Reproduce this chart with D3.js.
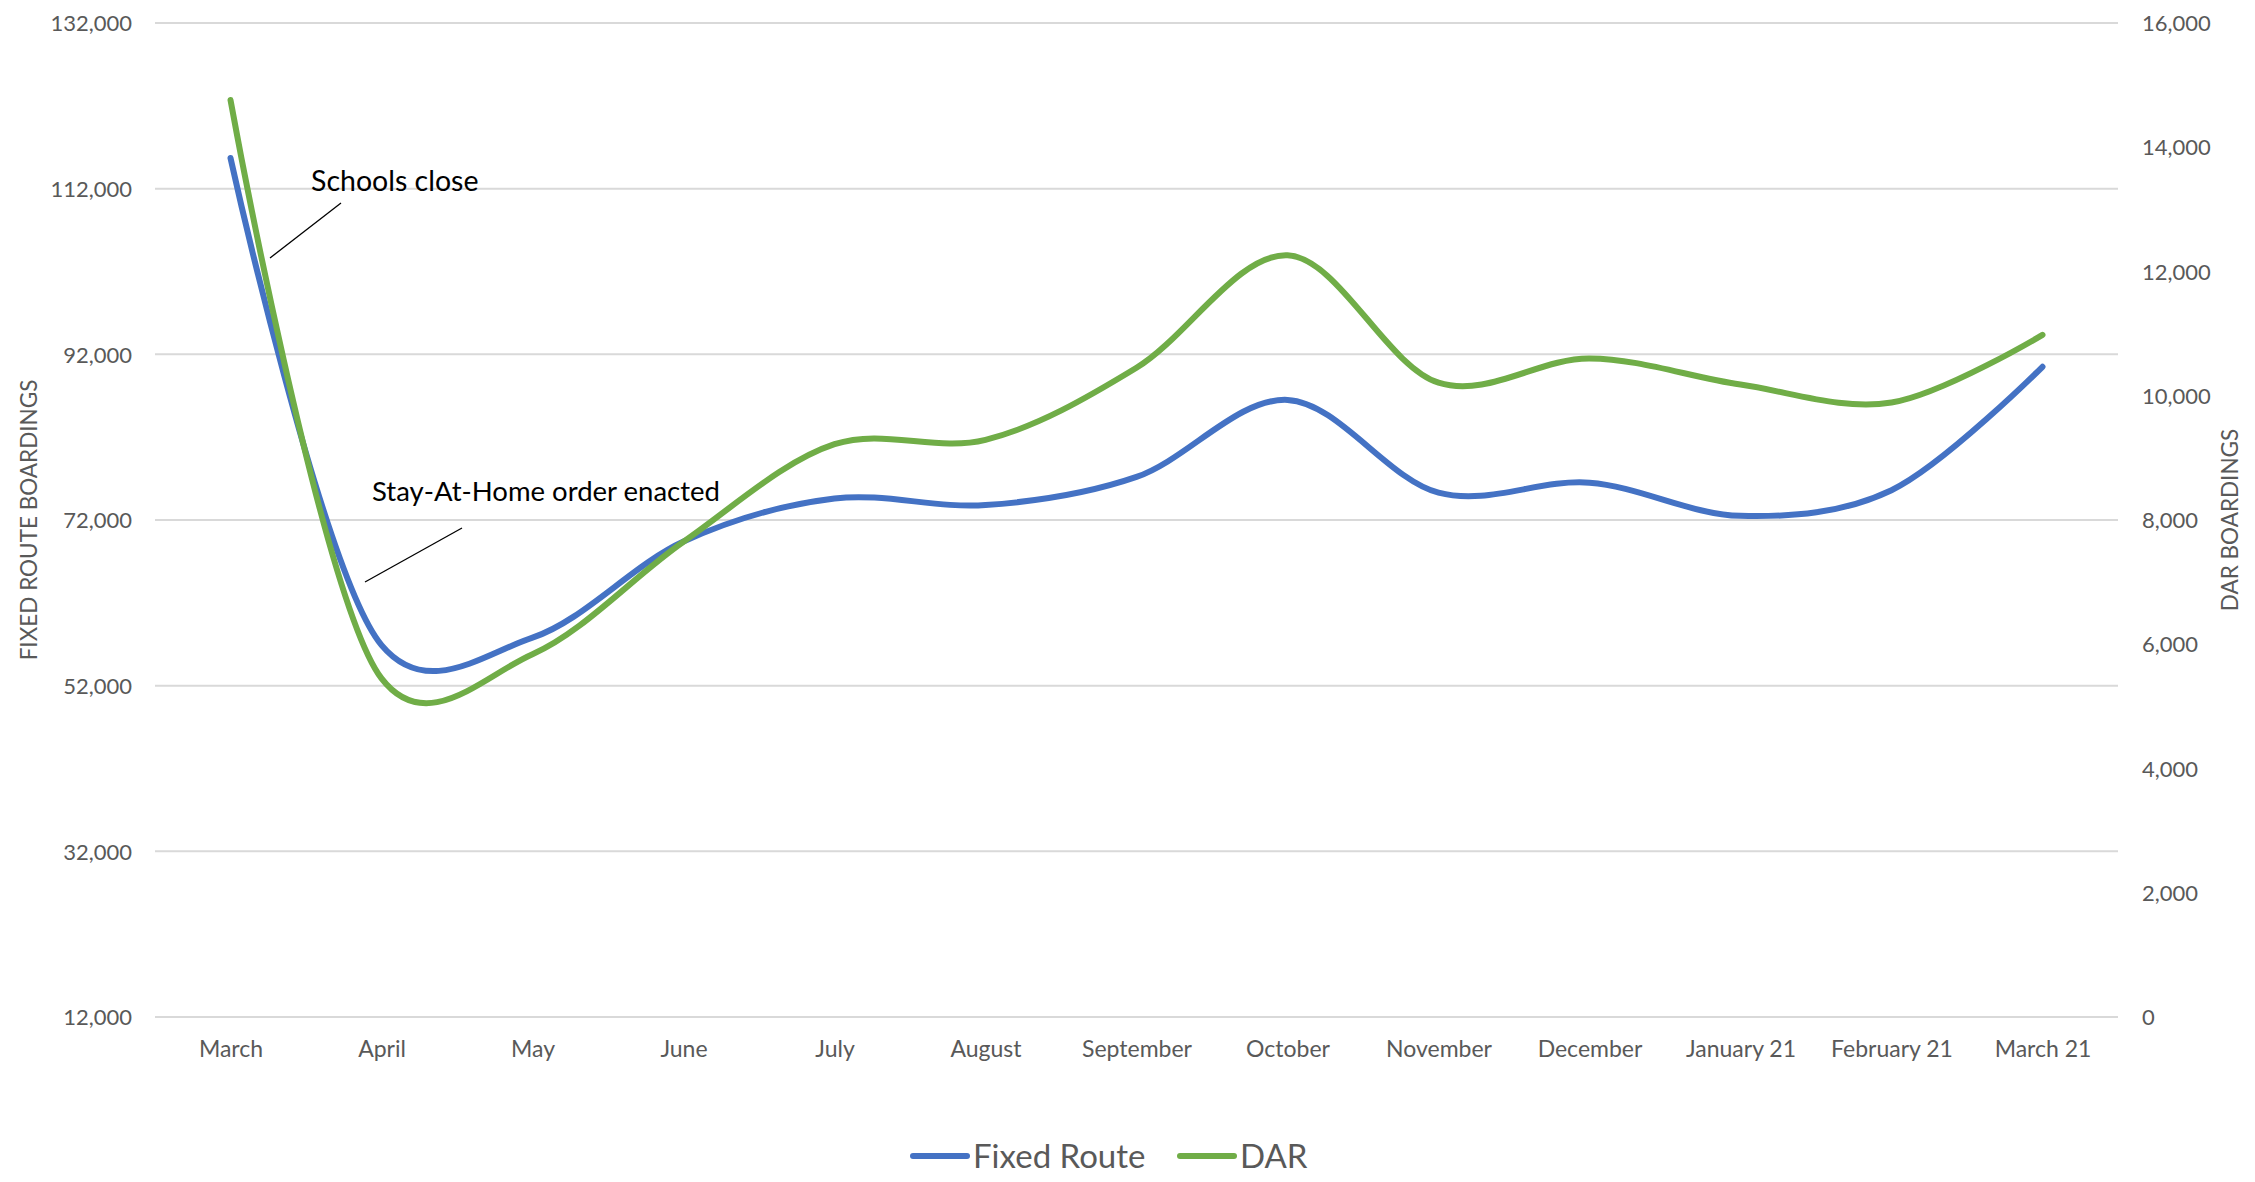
<!DOCTYPE html>
<html>
<head>
<meta charset="utf-8">
<script src="https://cdn.jsdelivr.net/npm/d3@7"></script>
<style>
  html, body { margin: 0; padding: 0; background: #fff; }
  svg { display: block; font-family: Lato, "Open Sans", sans-serif; }
</style>
</head>
<body>
<svg id="chart" width="2255" height="1182"></svg>
<script>
// Monthly boardings, March 2020 – March 2021
const months = ["March", "April", "May", "June", "July", "August", "September",
  "October", "November", "December", "January 21", "February 21", "March 21"];
const fixedRoute = [115700, 56900, 57800, 69400, 74600, 73800, 77200, 86500, 75300, 76500, 72500, 75600, 90500];
const dar = [14760, 5450, 5840, 7650, 9220, 9290, 10450, 12260, 10210, 10600, 10180, 9890, 10980];

const leftTicks = [12000, 32000, 52000, 72000, 92000, 112000, 132000];
const rightTicks = [0, 2000, 4000, 6000, 8000, 10000, 12000, 14000, 16000];

const seriesNames = ["Fixed Route", "DAR"];
const seriesColors = ["#4472C4", "#70AD47"];

const notes = ["Schools close", "Stay-At-Home order enacted"];

const svg = d3.select("#chart");
const plot = { left: 155, right: 2118, top: 23, bottom: 1017 };

const x = d3.scalePoint().domain(months).range([plot.left, plot.right]).padding(0.5);
const yLeft = d3.scaleLinear().domain([12000, 132000]).range([plot.bottom, plot.top]);
const yRight = d3.scaleLinear().domain([0, 16000]).range([plot.bottom, plot.top]);

const fmt = d3.format(",");
const labelColor = "#595959";

// horizontal gridlines on the primary axis ticks
svg.append("g")
  .selectAll("line")
  .data(leftTicks)
  .join("line")
  .attr("x1", plot.left).attr("x2", plot.right)
  .attr("y1", d => yLeft(d)).attr("y2", d => yLeft(d))
  .attr("stroke", "#d9d9d9").attr("stroke-width", 2);

// left axis
const axL = svg.append("g").attr("transform", `translate(${plot.left - 23},0)`)
  .call(d3.axisLeft(yLeft).tickValues(leftTicks).tickFormat(fmt).tickSize(0).tickPadding(0));
axL.select(".domain").remove();
axL.selectAll("text").attr("fill", labelColor).style("font-size", "22px").attr("dy", "0.35em")
  .style("font-family", "Lato, sans-serif");

// right axis
const axR = svg.append("g").attr("transform", `translate(${plot.right + 24},0)`)
  .call(d3.axisRight(yRight).tickValues(rightTicks).tickFormat(fmt).tickSize(0).tickPadding(0));
axR.select(".domain").remove();
axR.selectAll("text").attr("fill", labelColor).style("font-size", "22px").attr("dy", "0.35em")
  .style("font-family", "Lato, sans-serif");

// category axis
const axB = svg.append("g").attr("transform", `translate(0,${plot.bottom})`)
  .call(d3.axisBottom(x).tickSize(0).tickPadding(0));
axB.select(".domain").remove();
axB.selectAll("text").attr("fill", labelColor).style("font-size", "23px").attr("dy", "1.72em")
  .style("font-family", "Lato, sans-serif");

// axis titles
svg.append("text")
  .attr("transform", `translate(31,${(plot.top + plot.bottom) / 2}) rotate(-90)`)
  .attr("text-anchor", "middle").attr("dominant-baseline", "middle")
  .attr("fill", labelColor).style("font-size", "22.5px")
  .text("FIXED ROUTE BOARDINGS");
svg.append("text")
  .attr("transform", `translate(2232,${(plot.top + plot.bottom) / 2}) rotate(-90)`)
  .attr("text-anchor", "middle").attr("dominant-baseline", "middle")
  .attr("fill", labelColor).style("font-size", "22.5px")
  .text("DAR BOARDINGS");

// smoothed series lines
const curve = d3.curveCatmullRom.alpha(0.2);
const lineLeft = d3.line().x((d, i) => x(months[i])).y(d => yLeft(d)).curve(curve);
const lineRight = d3.line().x((d, i) => x(months[i])).y(d => yRight(d)).curve(curve);

svg.append("path").datum(fixedRoute).attr("d", lineLeft)
  .attr("fill", "none").attr("stroke", seriesColors[0]).attr("stroke-width", 6)
  .attr("stroke-linecap", "round").attr("stroke-linejoin", "round");
svg.append("path").datum(dar).attr("d", lineRight)
  .attr("fill", "none").attr("stroke", seriesColors[1]).attr("stroke-width", 6)
  .attr("stroke-linecap", "round").attr("stroke-linejoin", "round");

// event callouts
const callouts = [
  { note: notes[0], text: [311, 191], size: 28.5, from: [341, 203], to: [270, 258] },
  { note: notes[1], text: [372, 501], size: 27.5, from: [462, 528], to: [365, 582] }
];
callouts.forEach(c => {
  svg.append("line")
    .attr("x1", c.from[0]).attr("y1", c.from[1]).attr("x2", c.to[0]).attr("y2", c.to[1])
    .attr("stroke", "#000").attr("stroke-width", 1.3);
  svg.append("text")
    .attr("x", c.text[0]).attr("y", c.text[1])
    .attr("fill", "#000").style("font-size", c.size + "px")
    .text(c.note);
});

// legend
const legend = svg.append("g");
const legendItems = [
  { name: seriesNames[0], color: seriesColors[0], x: 913 },
  { name: seriesNames[1], color: seriesColors[1], x: 1180 }
];
legendItems.forEach(it => {
  legend.append("line")
    .attr("x1", it.x).attr("x2", it.x + 54).attr("y1", 1156).attr("y2", 1156)
    .attr("stroke", it.color).attr("stroke-width", 6).attr("stroke-linecap", "round");
  legend.append("text")
    .attr("x", it.x + 60).attr("y", 1156).attr("dy", "0.36em")
    .attr("fill", labelColor).style("font-size", "33px")
    .text(it.name);
});
</script>
</body>
</html>
